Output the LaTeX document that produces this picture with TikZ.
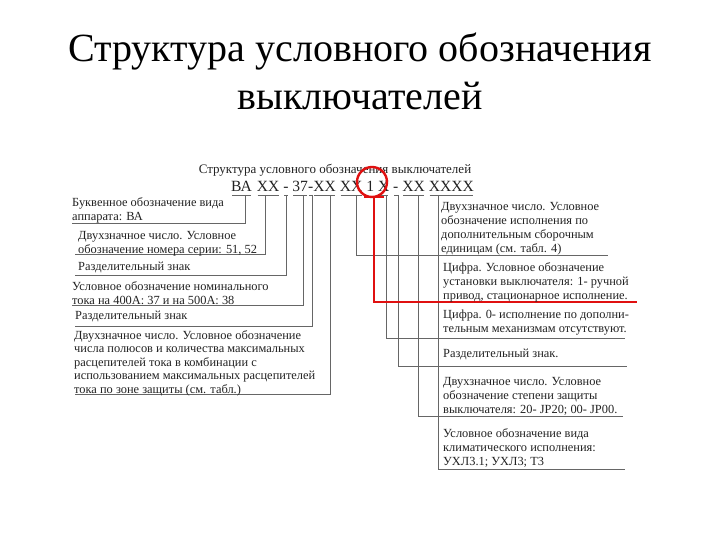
\documentclass[tikz,border=0pt]{standalone}
\usepackage{fontspec}
\setmainfont{Liberation Serif}
\definecolor{txt}{HTML}{222222}
\definecolor{ln}{HTML}{666666}
\definecolor{rd}{HTML}{E01010}
\begin{document}
\begin{tikzpicture}[x=1pt,y=-1pt,
  ttl/.style={font=\fontsize{40}{49}\selectfont, text=black, inner sep=0, anchor=base},
  desc/.style={font=\fontsize{12.4}{14}\selectfont, align=left, text=txt, inner sep=0, anchor=north west},
  tok/.style={font=\fontsize{15.6}{16}\selectfont, text=txt, inner sep=0, anchor=base west},
  cline/.style={draw=ln, line width=0.8pt},
  redl/.style={draw=rd, line width=2.6pt}]
\useasboundingbox (0,0) rectangle (720,540);
% title
\node[ttl] (title1) at (360,62) {Структура условного обозначения};
\node[ttl] (title2) at (360,110) {выключателей};
% inner title
\node[font=\fontsize{13}{14}\selectfont, text=txt, inner sep=0, anchor=base] (sub) at (335,174) {Структура условного обозначения выключателей};
% code tokens
\node[tok] (t1) at (231,192) {ВА};
\node[tok] (t2) at (256.6,192) {XX};
\node[tok] (t3) at (283.1,192) {-};
\node[tok] (t4) at (292.2,192) {37};
\node[tok] (t5) at (307.9,192) {-};
\node[tok] (t6) at (313.1,192) {XX};
\node[tok] (t7) at (339.6,192) {XX};
\node[tok] (t8) at (366.1,192) {1};
\node[tok] (t9) at (377.8,192) {X};
\node[tok] (t10) at (393,192) {-};
\node[tok] (t11) at (402.1,192) {XX};
\node[tok] (t12) at (428.6,192) {XXXX};
\coordinate (ul) at (0,195);
\foreach \t in {t1,t2,t3,t4,t5,t6,t7,t9,t10,t11,t12}
  \draw[cline] ([xshift=1pt]\t.west |- ul) -- ([xshift=-1pt]\t.east |- ul);
% left connectors
\foreach \t/\x/\y/\l in {t1/245/223/72, t2/265/254/75, t3/286/275/75, t4/303/305/72, t5/312/326/75, t6/330/394/75}{
  \coordinate (\t top) at (\x,195);
  \coordinate (\t c) at (\x,\y);
  \coordinate (\t e) at (\l,\y);
  \draw[cline] (\t top) -- (\t c) -- (\t e);
}
% right connectors
\foreach \t/\x/\y/\r in {t7/356/255/608, t9/386/338/625, t10/398/366/627, t11/418/416/623, t12/438/469/625}{
  \coordinate (\t top) at (\x,195);
  \coordinate (\t c) at (\x,\y);
  \coordinate (\t e) at (\r,\y);
  \draw[cline] (\t top) -- (\t c) -- (\t e);
}
% red highlight
\draw[rd, line width=2.4pt] (372,182) circle (15);
\coordinate (t8top) at (374,197);
\coordinate (t8c) at (374,302);
\coordinate (t8e) at (637,302);
\draw[redl] (364,197) -- (384,197);
\draw[redl] (t8top) -- (t8c) -- (t8e);
% left descriptions
\node[desc] (l1) at (72,197) {Буквенное обозначение вида\\аппарата: ВА};
\node[desc] (l2) at (78,231) {Двухзначное число. Условное\\обозначение номера серии: 51, 52};
\node[desc] (l3) at (78,262) {Разделительный знак};
\node[desc] (l4) at (72,281) {Условное обозначение номинального\\тока на 400А: 37 и на 500А: 38};
\node[desc] (l5) at (75,311) {Разделительный знак};
\node[desc, font=\fontsize{12.4}{13.6}\selectfont] (l6) at (74,330) {Двухзначное число. Условное обозначение\\числа полюсов и количества максимальных\\расцепителей тока в комбинации с\\использованием максимальных расцепителей\\тока по зоне защиты (см. табл.)};
% right descriptions
\node[desc] (r1) at (441,202) {Двухзначное число. Условное\\обозначение исполнения по\\дополнительным сборочным\\единицам (см. табл. 4)};
\node[desc] (r2) at (443,262) {Цифра. Условное обозначение\\установки выключателя: 1- ручной\\привод, стационарное исполнение.};
\node[desc] (r3) at (443,310) {Цифра. 0- исполнение по дополни-\\тельным механизмам отсутствуют.};
\node[desc] (r4) at (443,349) {Разделительный знак.};
\node[desc] (r5) at (443,377) {Двухзначное число. Условное\\обозначение степени защиты\\выключателя: 20- JP20; 00- JP00.};
\node[desc] (r6) at (443,428) {Условное обозначение вида\\климатического исполнения:\\УХЛ3.1; УХЛ3; Т3};
\end{tikzpicture}
\end{document}
